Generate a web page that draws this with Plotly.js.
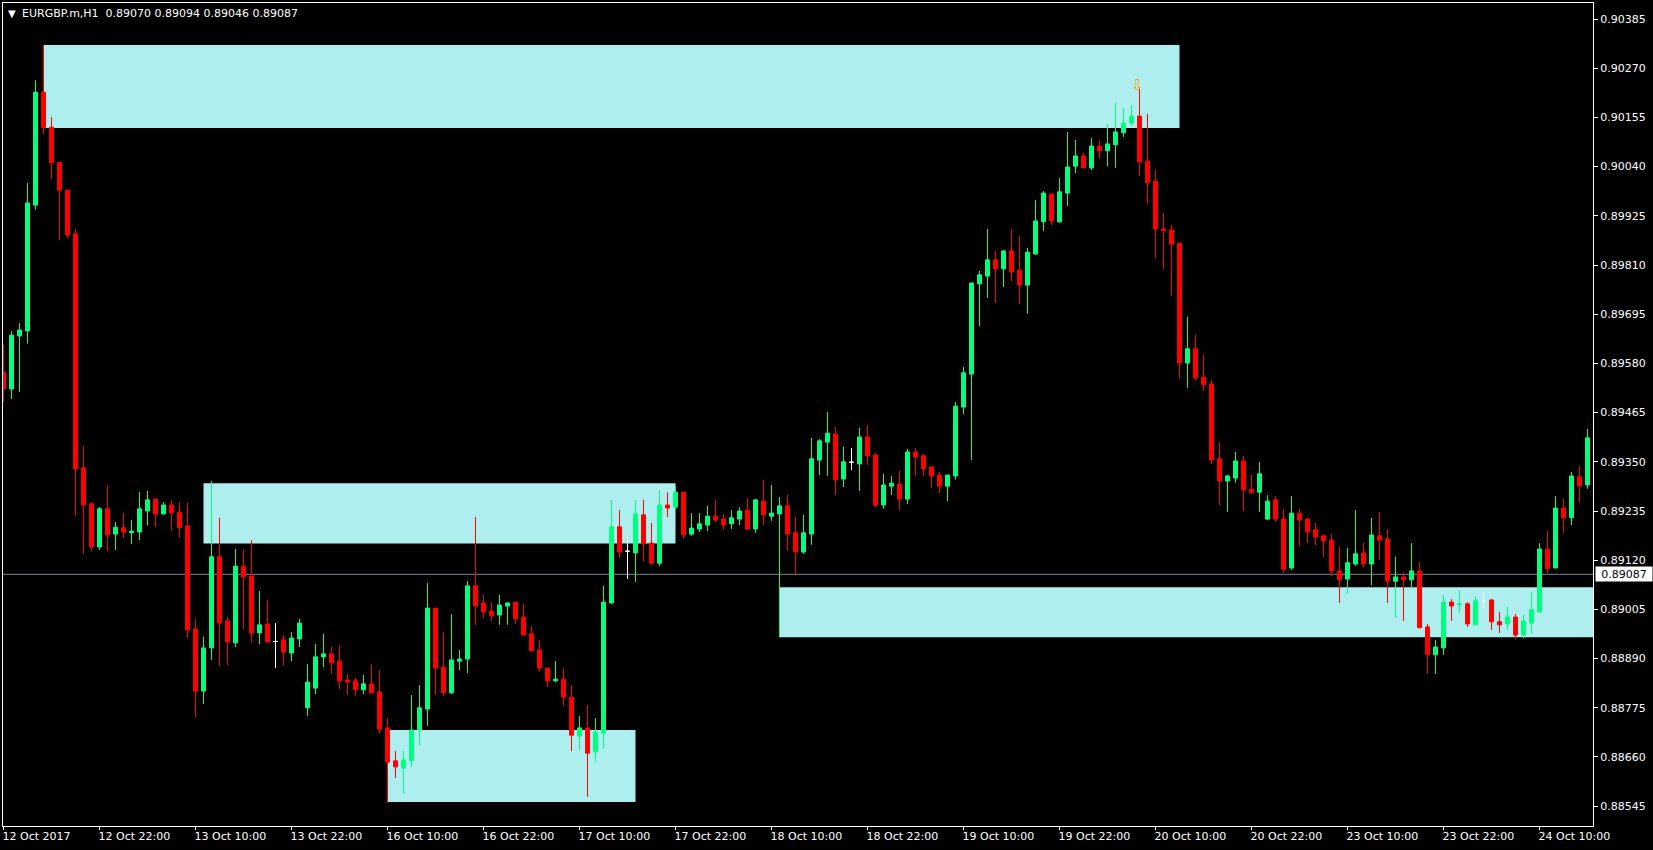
<!DOCTYPE html>
<html><head><meta charset="utf-8">
<script src="https://cdn.plot.ly/plotly-3.0.1.min.js"></script>
<style>html,body{margin:0;padding:0;background:#000;overflow:hidden}#chart{width:1653px;height:850px}</style>
</head><body><div id="chart"></div>
<script>
// Prices in broker points (1 point = 0.00001)
const POINT = 0.00001;
const openPts = [89560,89520,89644,89656,89950,90214,90132,90050,89985,89883,89336,89252,89151,89240,89181,89196,89184,89186,89235,89263,89228,89249,89232,89200,88959,88814,88915,89128,88978,88927,89106,89083,88950,88971,88930,88934,88903,88936,88775,88821,88894,88901,88884,88840,88838,88817,88831,88812,88728,88651,88634,88651,88723,88772,89008,88870,88810,88884,88889,89060,89020,89001,88992,89013,89022,88987,88948,88910,88868,88838,88842,88800,88709,88728,88672,88716,89020,89198,89141,89137,89226,89160,89113,89249,89244,89279,89181,89193,89202,89223,89216,89205,89216,89237,89193,89258,89223,89228,89247,89184,89139,89181,89354,89396,89415,89310,89349,89345,89408,89366,89249,89293,89298,89263,89373,89364,89338,89319,89293,89317,89478,89555,89766,89784,89822,89801,89843,89798,89763,89836,89911,89976,89911,89978,90041,90065,90037,90088,90077,90091,90119,90142,90158,90053,90006,89894,89892,89861,89581,89614,89548,89532,89357,89305,89312,89352,89286,89279,89216,89261,89216,89102,89230,89216,89191,89177,89167,89095,89076,89111,89137,89111,89177,89170,89071,89081,89074,89095,88964,88899,88915,89022,89016,89018,88969,89026,89027,88976,88971,88987,88945,88973,88999,89146,89102,89242,89219,89315,89296];
const highPts = [89624,89656,89674,90002,90242,90324,90156,90050,89985,89894,89387,89252,89244,89296,89209,89231,89214,89279,89282,89263,89256,89261,89256,89254,88983,88941,89305,89219,88987,89146,89146,89167,89048,89027,88973,88945,88952,88983,88877,88924,88948,88917,88922,88854,88845,88852,88877,88863,88751,88674,88674,88805,88828,89067,89008,88952,88994,88910,89071,89221,89039,89022,89039,89022,89022,89018,88966,88934,88868,88884,88868,88828,88756,88782,88751,89060,89261,89237,89181,89261,89261,89207,89284,89279,89293,89279,89230,89230,89247,89261,89228,89237,89244,89265,89263,89308,89296,89268,89272,89221,89226,89406,89403,89466,89431,89385,89382,89429,89436,89371,89322,89317,89329,89380,89382,89368,89340,89326,89319,89490,89572,89768,89796,89894,89843,89845,89894,89878,89850,89962,89983,89976,90013,90121,90102,90072,90107,90102,90140,90191,90177,90184,90221,90163,90032,89932,89904,89861,89689,89646,89600,89541,89396,89319,89373,89364,89319,89350,89272,89270,89240,89270,89240,89219,89207,89181,89181,89151,89149,89237,89160,89219,89233,89193,89128,89090,89160,89116,88971,88934,89039,89029,89050,89022,89036,89046,89029,88999,89011,88994,88994,89046,89160,89188,89270,89263,89326,89340,89427];
const lowPts = [89490,89497,89513,89626,89939,90116,90011,89868,89873,89223,89135,89141,89144,89141,89144,89172,89158,89167,89201,89197,89228,89188,89172,88938,88754,88784,88887,88873,88875,88917,88959,88927,88924,88927,88868,88873,88884,88917,88756,88807,88870,88854,88819,88805,88803,88807,88810,88714,88553,88611,88574,88637,88686,88733,88805,88803,88807,88863,88856,88969,88985,88978,88969,88969,88971,88945,88908,88859,88824,88835,88779,88674,88676,88567,88648,88679,89018,89125,89076,89069,89118,89109,89106,89221,89240,89170,89177,89186,89188,89209,89191,89193,89202,89191,89184,89202,89212,88940,89142,89088,89135,89156,89319,89317,89272,89291,89331,89282,89343,89244,89240,89272,89237,89251,89317,89317,89289,89277,89258,89308,89462,89354,89667,89733,89721,89759,89773,89719,89696,89833,89890,89904,89908,89948,90025,90037,90032,90058,90041,90037,90109,90135,90018,89953,89826,89801,89738,89544,89523,89541,89516,89345,89249,89233,89301,89235,89275,89233,89214,89209,89090,89097,89153,89160,89156,89128,89083,89020,89041,89107,89104,89062,89121,89020,88985,88978,89053,88962,88854,88854,88899,88978,88997,88964,88969,89004,88957,88950,88957,88934,88938,88948,88997,89090,89100,89184,89202,89254,89287];
const closePts = [89520,89646,89658,89955,90214,90131,90049,89985,89880,89333,89249,89151,89240,89179,89197,89186,89188,89240,89261,89228,89249,89231,89196,88957,88814,88915,89128,88973,88929,89106,89081,88950,88969,88929,88930,88905,88938,88973,88835,88894,88901,88880,88838,88835,88817,88831,88810,88725,88648,88637,88653,88723,88775,89008,88868,88810,88887,88889,89060,89013,88999,88990,89015,89020,88983,88945,88908,88868,88838,88842,88800,88711,88728,88669,88718,89022,89198,89139,89141,89228,89158,89113,89249,89242,89279,89179,89195,89205,89223,89214,89202,89219,89235,89193,89261,89226,89230,89247,89181,89139,89184,89357,89399,89417,89308,89350,89349,89408,89364,89249,89296,89300,89263,89373,89361,89333,89317,89293,89319,89480,89558,89768,89787,89822,89801,89843,89794,89763,89840,89913,89978,89913,89981,90039,90065,90037,90088,90077,90093,90121,90142,90158,90051,90002,89894,89890,89859,89581,89614,89546,89530,89354,89305,89317,89352,89284,89279,89322,89258,89216,89099,89230,89214,89186,89174,89165,89095,89074,89114,89135,89111,89179,89167,89071,89081,89074,89095,88962,88899,88917,89022,89013,89018,88971,89025,89026,88976,88969,88987,88945,88978,89004,89146,89100,89242,89219,89317,89294,89406];

const tickIndex = [0,12,24,36,48,60,72,84,96,108,120,132,144,156,168,180,192];
const tickLabels = ['12 Oct 2017','12 Oct 22:00','13 Oct 10:00','13 Oct 22:00','16 Oct 10:00','16 Oct 22:00','17 Oct 10:00','17 Oct 22:00','18 Oct 10:00','18 Oct 22:00','19 Oct 10:00','19 Oct 22:00','20 Oct 10:00','20 Oct 22:00','23 Oct 10:00','23 Oct 22:00','24 Oct 10:00'];
const priceTicks = [0.88545,0.88660,0.88775,0.88890,0.89005,0.89120,0.89235,0.89350,0.89465,0.89580,0.89695,0.89810,0.89925,0.90040,0.90155,0.90270,0.90385];
const lastPrice = 0.89087;
const headerText = 'EURGBP.m,H1  0.89070 0.89094 0.89046 0.89087';
// Supply / demand zones: [first bar, last bar, upper price, lower price]
const zoneA = [5,147,0.90324,0.90130];
const zoneB = [25,84,0.89300,0.89159];
const zoneC = [48,79,0.88723,0.88555];
const zoneD = [97,198.69,0.89057,0.88940];
const arrowBar = 141.75, arrowPrice = 0.90227;

const UP='#00FF7F', DOWN='#FF0000', DOJI='#FFFFFF', ZONE='#AFEEEE', FONT='"DejaVu Sans", sans-serif';
const p = a => a.map(v => v*POINT);
const idx = openPts.map((_,i)=>i);
const solid = idx.filter(i=>openPts[i]!==closePts[i]);
const doji = idx.filter(i=>openPts[i]===closePts[i]);
const pick = (a,ii)=>ii.map(i=>a[i]);
const candle = (ii,up,down)=>({type:'candlestick',x:ii,open:p(pick(openPts,ii)),high:p(pick(highPts,ii)),low:p(pick(lowPts,ii)),close:p(pick(closePts,ii)),
  increasing:{line:{color:up,width:1},fillcolor:up},decreasing:{line:{color:down,width:1},fillcolor:down},whiskerwidth:0,hoverinfo:'skip',showlegend:false});
const zoneShape = z=>({type:'rect',layer:'below',xref:'x',yref:'y',x0:z[0],x1:z[1],y0:z[3],y1:z[2],fillcolor:ZONE,line:{width:0}});

const data = [candle(solid,UP,DOWN),candle(doji,DOJI,DOJI),
 {type:'scatter',mode:'text',x:[arrowBar],y:[arrowPrice],text:['\u21E9'],textfont:{family:'"DejaVu Sans"',size:15,color:'#FF9900'},textposition:'middle center',hoverinfo:'skip',showlegend:false}];
const layout = {
  width:1653,height:850,paper_bgcolor:'#000',plot_bgcolor:'#000',showlegend:false,boxgap:0.5,boxgroupgap:0,boxmode:'overlay',
  margin:{l:3,r:60,t:3,b:24,pad:0},
  font:{family:FONT,size:11,color:'#fff'},
  xaxis:{type:'linear',range:[-0.0625,198.6875],tickmode:'array',tickvals:tickIndex,ticktext:tickLabels,ticks:'outside',ticklen:3,tickcolor:'#fff',tickwidth:1,ticklabelshift:-2,
    ticklabelposition:'outside right',showgrid:false,zeroline:false,showline:true,linecolor:'#fff',linewidth:1,mirror:true,rangeslider:{visible:false},tickfont:{family:FONT,size:11,color:'#fff'},fixedrange:true},
  yaxis:{side:'right',range:[p([88498.7])[0],p([90422.4])[0]],tickmode:'array',tickvals:priceTicks,tickformat:'.5f',ticks:'outside',ticklen:4,tickcolor:'#fff',tickwidth:1,
    showgrid:false,zeroline:false,showline:true,linecolor:'#fff',linewidth:1,mirror:true,tickfont:{family:FONT,size:11,color:'#fff'},fixedrange:true},
  shapes:[zoneShape(zoneA),zoneShape(zoneB),zoneShape(zoneC),zoneShape(zoneD),
    {type:'line',layer:'below',xref:'paper',yref:'y',x0:0,x1:1,y0:lastPrice,y1:lastPrice,line:{color:'#778899',width:1}}],
  annotations:[
    {xref:'paper',yref:'paper',x:0,y:1,xshift:17,yshift:-2,xanchor:'left',yanchor:'top',text:headerText.replace(/ /g,'\u00A0'),showarrow:false,font:{family:FONT,size:11,color:'#fff'}},
    {xref:'paper',yref:'paper',x:0,y:1,xshift:3,yshift:-3,xanchor:'left',yanchor:'top',text:'\u25BC',showarrow:false,font:{family:'"DejaVu Sans"',size:10,color:'#fff'}},
    {xref:'paper',yref:'y',x:1,y:lastPrice,xshift:2,xanchor:'left',yanchor:'middle',text:lastPrice.toFixed(5),showarrow:false,bgcolor:'#fff',width:56,height:14,borderpad:0,font:{family:FONT,size:11,color:'#000'}}
  ]
};
Plotly.newPlot('chart',data,layout,{staticPlot:true,displayModeBar:false});
</script></body></html>
